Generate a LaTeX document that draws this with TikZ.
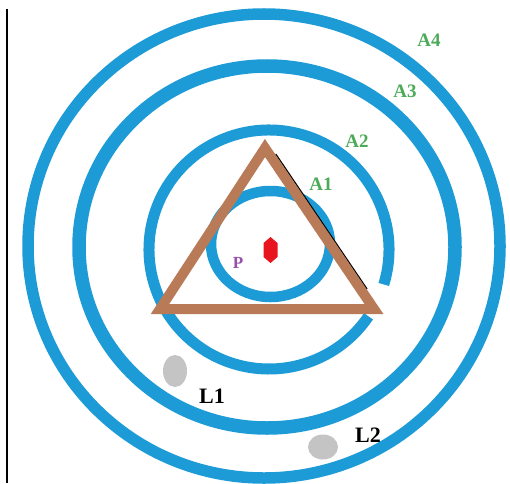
\documentclass[tikz,border=0pt]{standalone}
\usepackage{fontspec}
\setmainfont{Liberation Serif}
\definecolor{ringblue}{RGB}{28,155,214}
\definecolor{tribrown}{RGB}{185,122,87}
\definecolor{lblgreen}{RGB}{76,170,88}
\definecolor{lblpurple}{RGB}{150,80,170}
\definecolor{blobgray}{RGB}{196,196,196}
\definecolor{dotred}{RGB}{232,20,30}
\begin{document}
\begin{tikzpicture}[x=1pt,y=1pt,
  ring/.style={draw=ringblue},
  alabel/.style={text=lblgreen,font=\bfseries\fontsize{19}{19}\selectfont,inner sep=0pt},
  llabel/.style={text=black,font=\bfseries\fontsize{22}{22}\selectfont,inner sep=0pt},
  blob/.style={fill=blobgray,draw=none}]
\useasboundingbox (0,0) rectangle (510,483);
\fill[white] (0,0) rectangle (510,483);
% left border line
\coordinate (vtop) at (7,474);
\coordinate (vbot) at (7,0);
\draw[line width=2.2] (vtop) -- (vbot);
% rings
\draw[ring,line width=11.5] (264,237) ellipse [x radius=236, y radius=232];
\draw[ring,line width=13.5] (267,236) ellipse [x radius=188, y radius=181];
\draw[ring,line width=11] (269,233.5) ++(-17:120 and 119.5) arc[start angle=-17, end angle=326, x radius=120, y radius=119.5];
\draw[ring,line width=10.5] (270.5,239) ellipse [x radius=59.5, y radius=53];
% thin black stroke along the right side of the triangle
\coordinate (s1) at (275.7,329);
\coordinate (s2) at (367,194);
\draw[line width=1.3] (s1) -- (s2);
% triangle
\coordinate (tA) at (265,335);
\coordinate (tB) at (160,174);
\coordinate (tC) at (374,174);
\draw[tribrown,line width=10,line join=miter] (tA) -- (tB) -- (tC) -- cycle;
% red dot
\fill[dotred] (270.5,246) -- (277.5,240) -- (277.5,226) -- (270.5,220) -- (263.5,226) -- (263.5,240) -- cycle;
% grey blobs
\fill[blob] (175,112) ellipse [x radius=12, y radius=16];
\fill[blob] (323,36) ellipse [x radius=15, y radius=12.5];
% labels
\node[alabel] (a4) at (429,443) {A4};
\node[alabel] (a3) at (405,392) {A3};
\node[alabel] (a2) at (357,342) {A2};
\node[alabel] (a1) at (321,299) {A1};
\node[text=lblpurple,font=\bfseries\fontsize{17}{17}\selectfont,inner sep=0pt] (p) at (238,220) {P};
\node[llabel] (l1) at (212,87) {L1};
\node[llabel] (l2) at (368,48) {L2};
\end{tikzpicture}
\end{document}
